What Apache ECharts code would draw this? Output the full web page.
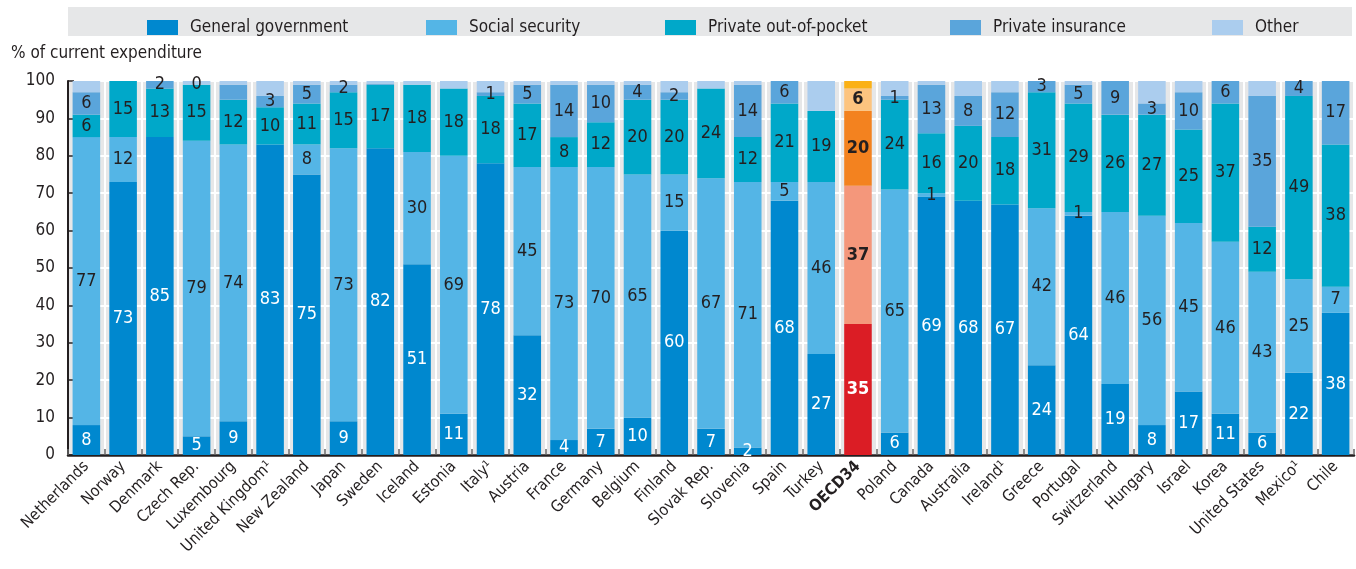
<!DOCTYPE html>
<html lang="en">
<head>
    <meta charset="UTF-8">
    <title>Health expenditure by financing agent</title>
    <script type="text/javascript" src="https://cdn.jsdelivr.net/npm/echarts@6/dist/echarts.min.js"></script>
    <style>
        html, body { margin: 0; padding: 0; background: #ffffff; }
        #main { width: 1356px; height: 569px; }
    </style>
</head>
<body>
<div id="main"></div>
<script type="text/javascript">
    // categories and values (% of current expenditure)
    var countries = ['Netherlands', 'Norway', 'Denmark', 'Czech Rep.', 'Luxembourg', 'United Kingdom¹', 'New Zealand',
        'Japan', 'Sweden', 'Iceland', 'Estonia', 'Italy¹', 'Austria', 'France', 'Germany', 'Belgium', 'Finland',
        'Slovak Rep.', 'Slovenia', 'Spain', 'Turkey', 'OECD34', 'Poland', 'Canada', 'Australia', 'Ireland¹',
        'Greece', 'Portugal', 'Switzerland', 'Hungary', 'Israel', 'Korea', 'United States', 'Mexico¹', 'Chile'];

    var generalGovernment = [8, 73, 85, 5, 9, 83, 75, 9, 82, 51, 11, 78, 32, 4, 7, 10, 60,
        7, 2, 68, 27, 35, 6, 69, 68, 67, 24, 64, 19, 8, 17, 11, 6, 22, 38];
    var socialSecurity = [77, 12, null, 79, 74, null, 8, 73, null, 30, 69, null, 45, 73, 70, 65, 15,
        67, 71, 5, 46, 37, 65, 1, null, null, 42, 1, 46, 56, 45, 46, 43, 25, 7];
    var outOfPocket = [6, 15, 13, 15, 12, 10, 11, 15, 17, 18, 18, 18, 17, 8, 12, 20, 20,
        24, 12, 21, 19, 20, 24, 16, 20, 18, 31, 29, 26, 27, 25, 37, 12, 49, 38];
    var privateInsurance = [6, null, 2, 0, 4, 3, 5, 2, 0.3, null, null, 1, 5, 14, 10, 4, 2,
        null, 14, 6, null, 6, 1, 13, 8, 12, 3, 5, 9, 3, 10, 6, 35, 4, 17];
    var other = [3, null, null, 1, 1, 4, 1, 1, 0.7, 1, 2, 3, 1, 1, 1, 1, 3,
        2, 1, null, 8, 2, 4, 1, 4, 3, null, 1, null, 6, 3, null, 4, null, null];

    // private insurance segments printed without a number
    var piUnlabelled = ['Luxembourg', 'Sweden'];

    var yTicks = [0, 10, 20, 30, 40, 50, 60, 70, 80, 90, 100];

    var seriesNames = ['General government', 'Social security', 'Private out-of-pocket', 'Private insurance', 'Other'];
    var blueColors = ['#0088cf', '#54b5e6', '#00a8c9', '#5aa5db', '#abcdee'];
    var oecdColors = ['#db1d25', '#f4977b', '#f3821f', '#fdc47f', '#fbb116'];
    // left edge of each legend entry
    var legendLeft = [142, 421, 660, 945, 1207];

    var FONT = '"Liberation Sans Narrow", "DejaVu Sans Condensed", "Noto Sans", sans-serif';
    var DARK = '#231f20';

    function buildData(values, k) {
        return values.map(function (v, i) {
            if (countries[i] === 'OECD34') {
                return {
                    value: v,
                    itemStyle: { color: oecdColors[k] },
                    label: { fontWeight: 'bold' }
                };
            }
            return v;
        });
    }

    function makeSeries(values, k) {
        return {
            name: seriesNames[k],
            type: 'bar',
            stack: 'total',
            barWidth: '75%',
            color: blueColors[k],
            data: buildData(values, k),
            label: {
                show: k !== 4,
                position: 'inside',
                fontFamily: FONT,
                fontSize: 18,
                color: k === 0 ? '#ffffff' : DARK,
                formatter: function (p) {
                    if (p.value === null || p.value === undefined) return '';
                    if (k === 3 && piUnlabelled.indexOf(p.name) >= 0) return '';
                    return Math.round(p.value);
                }
            },
            emphasis: { disabled: true }
        };
    }

    // one legend per entry so each sits where it does in the print
    var legends = seriesNames.map(function (name, k) {
        return {
            data: [name],
            left: legendLeft[k],
            top: 14,
            z: 5,
            icon: 'rect',
            itemWidth: 31,
            itemHeight: 15,
            textStyle: { fontFamily: FONT, fontSize: 17, color: DARK, padding: [0, 0, 0, 7] },
            selectedMode: false
        };
    });

    var myChart = echarts.init(document.getElementById('main'));

    var option = {
        animation: false,
        backgroundColor: '#ffffff',
        textStyle: { fontFamily: FONT },
        title: {
            text: '% of current expenditure',
            left: 6,
            top: 40,
            textStyle: { fontFamily: FONT, fontSize: 17, fontWeight: 'normal', color: DARK }
        },
        graphic: [{
            type: 'rect',
            z: 0,
            shape: { x: 68, y: 7, width: 1284, height: 29 },
            style: { fill: '#e6e7e8' }
        }],
        legend: legends,
        grid: {
            left: 68,
            right: 2,
            top: 81,
            bottom: 114,
            show: true,
            backgroundColor: '#e6e7e8',
            borderWidth: 0
        },
        xAxis: {
            type: 'category',
            data: countries,
            axisLine: { show: true, lineStyle: { color: DARK, width: 2.5 } },
            axisTick: { show: true, inside: true, length: 6, lineStyle: { color: '#666666', width: 1.5 } },
            splitLine: { show: true, lineStyle: { color: '#ffffff', width: 2 } },
            axisLabel: {
                interval: 0,
                rotate: 45,
                margin: 9,
                fontFamily: FONT,
                fontSize: 16,
                color: DARK,
                formatter: function (v) {
                    return v === 'OECD34' ? '{b|' + v + '}' : v;
                },
                rich: {
                    b: { fontFamily: FONT, fontSize: 16, fontWeight: 'bold', color: DARK }
                }
            }
        },
        yAxis: {
            type: 'value',
            min: yTicks[0],
            max: yTicks[yTicks.length - 1],
            interval: 10,
            axisLine: { show: true, lineStyle: { color: DARK, width: 2 } },
            axisTick: { show: true, inside: true, length: 6, lineStyle: { color: DARK, width: 1.5 } },
            splitLine: { show: true, lineStyle: { color: '#ffffff', width: 2 } },
            axisLabel: { fontFamily: FONT, fontSize: 17, color: DARK, margin: 13 }
        },
        series: [
            makeSeries(generalGovernment, 0),
            makeSeries(socialSecurity, 1),
            makeSeries(outOfPocket, 2),
            makeSeries(privateInsurance, 3),
            makeSeries(other, 4)
        ]
    };

    myChart.setOption(option);
</script>
</body>
</html>
